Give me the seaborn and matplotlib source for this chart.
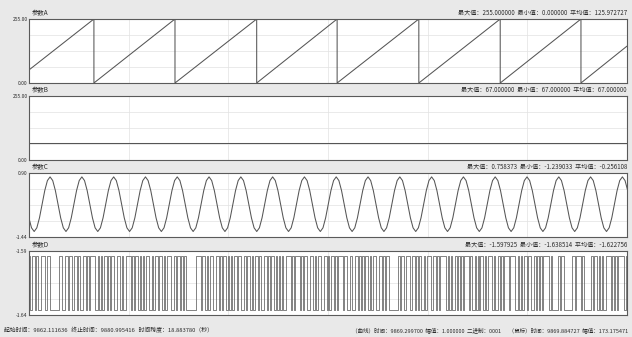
import numpy as np
import pandas as pd
import matplotlib
matplotlib.use("Agg")
import matplotlib.pyplot as plt
import seaborn as sns

# DADOS

DURACAO = 18.883780  # segundos (9862.111636 -> 9880.995416)

# Parametro A: dente de serra (vertices)
A_T = [0.00, 2.05, 2.05, 4.61, 4.61, 7.19, 7.19, 9.73, 9.73,
       12.31, 12.31, 14.88, 14.88, 17.43, 17.43, DURACAO]
A_V = [52, 255, 0, 255, 0, 255, 0, 255, 0,
       255, 0, 255, 0, 255, 0, 147]

# Parametro B: constante
B_T = [0.0, DURACAO]
B_V = [67.0, 67.0]

# Parametro C: senoide, amostras a cada 1/12 de periodo (periodo ~1.004 s)
C_INICIO = -0.004
C_PASSO = 0.08367
C_V = [-0.740, -1.105,
       -1.239, -1.105, -0.740, -0.240, 0.259, 0.624, 0.758, 0.624, 0.259, -0.240, -0.740, -1.105,
       -1.239, -1.105, -0.740, -0.240, 0.259, 0.624, 0.758, 0.624, 0.259, -0.240, -0.740, -1.105,
       -1.239, -1.105, -0.740, -0.240, 0.259, 0.624, 0.758, 0.624, 0.259, -0.240, -0.740, -1.105,
       -1.239, -1.105, -0.740, -0.240, 0.259, 0.624, 0.758, 0.624, 0.259, -0.240, -0.740, -1.105,
       -1.239, -1.105, -0.740, -0.240, 0.259, 0.624, 0.758, 0.624, 0.259, -0.240, -0.740, -1.105,
       -1.239, -1.105, -0.740, -0.240, 0.259, 0.624, 0.758, 0.624, 0.259, -0.240, -0.740, -1.105,
       -1.239, -1.105, -0.740, -0.240, 0.259, 0.624, 0.758, 0.624, 0.259, -0.240, -0.740, -1.105,
       -1.239, -1.105, -0.740, -0.240, 0.259, 0.624, 0.758, 0.624, 0.259, -0.240, -0.740, -1.105,
       -1.239, -1.105, -0.740, -0.240, 0.259, 0.624, 0.758, 0.624, 0.259, -0.240, -0.740, -1.105,
       -1.239, -1.105, -0.740, -0.240, 0.259, 0.624, 0.758, 0.624, 0.259, -0.240, -0.740, -1.105,
       -1.239, -1.105, -0.740, -0.240, 0.259, 0.624, 0.758, 0.624, 0.259, -0.240, -0.740, -1.105,
       -1.239, -1.105, -0.740, -0.240, 0.259, 0.624, 0.758, 0.624, 0.259, -0.240, -0.740, -1.105,
       -1.239, -1.105, -0.740, -0.240, 0.259, 0.624, 0.758, 0.624, 0.259, -0.240, -0.740, -1.105,
       -1.239, -1.105, -0.740, -0.240, 0.259, 0.624, 0.758, 0.624, 0.259, -0.240, -0.740, -1.105,
       -1.239, -1.105, -0.740, -0.240, 0.259, 0.624, 0.758, 0.624, 0.259, -0.240, -0.740, -1.105,
       -1.239, -1.105, -0.740, -0.240, 0.259, 0.624, 0.758, 0.624, 0.259, -0.240, -0.740, -1.105,
       -1.239, -1.105, -0.740, -0.240, 0.259, 0.624, 0.758, 0.624, 0.259, -0.240, -0.740, -1.105,
       -1.239, -1.105, -0.740, -0.240, 0.259, 0.624, 0.758, 0.624, 0.259, -0.240, -0.740, -1.105,
       -1.239, -1.105, -0.740, -0.240, 0.259, 0.624, 0.758, 0.624, 0.259]

# Parametro D: sinal binario (1 = alto, 0 = baixo)
D_ALTO = -1.5979
D_BAIXO = -1.6385
D_BITS = ("1011010011" "1011000000" "1100110110" "1101001101" "0111001010"
          "1101011001" "1010011101" "0110101011" "0010110110" "1011100101"
          "1010100000" "0011101101" "0110011010" "1101010110" "1100101101"
          "0110100110" "1011010101" "0011101011" "1010110011" "0101100110"
          "1011010111" "0110010011" "0101011010" "1100110101" "1000000101"
          "1011101101" "0100101110" "1101011110" "1010010101" "0111010010"
          "1011010111" "0100101011" "1011100101" "0110110010" "1010111101"
          "0000101100" "0001101110" "1000001011" "0101001110" "1010111101")

TITULOS = ["参数A", "参数B", "参数C", "参数D"]
ESTATISTICAS = [
    "最大值：255.000000  最小值：0.000000  平均值：125.972727",
    "最大值：67.000000  最小值：67.000000  平均值：67.000000",
    "最大值：0.758373  最小值：-1.239033  平均值：-0.256108",
    "最大值：-1.597925  最小值：-1.638514  平均值：-1.622756",
]
LIMITES_Y = [(0.0, 255.0), (0.0, 255.0), (-1.44, 0.90), (-1.6426, -1.5938)]

RODAPE_ESQ = "起始时间：9862.111636   终止时间：9880.995416   时间跨度：18.883780（秒）"
RODAPE_DIR = "（曲线）时间：9869.299700  幅值：1.000000  二进制：0001      （鼠标）时间：9869.884727  幅值：173.175471"

# MONTAGEM DOS SINAIS

c_t = C_INICIO + C_PASSO * np.arange(len(C_V))
d_v = [D_ALTO if b == "1" else D_BAIXO for b in D_BITS]
d_t = np.linspace(0, DURACAO, len(d_v) + 1)
d_v = d_v + [d_v[-1]]

sinais = [
    pd.DataFrame({"t": A_T, "v": A_V}),
    pd.DataFrame({"t": B_T, "v": B_V}),
    pd.DataFrame({"t": c_t, "v": C_V}),
    pd.DataFrame({"t": d_t, "v": d_v}),
]

# FIGURA

sns.set_theme(style="white")
plt.rcParams["font.family"] = ["Noto Sans CJK SC", "DejaVu Sans"]

COR_FUNDO = "#e9e9e9"
COR_LINHA = "#555555"
COR_TEXTO = "#2b2b2b"

fig = plt.figure(figsize=(6.32, 3.37), dpi=100, facecolor=COR_FUNDO)
W, H = 632.0, 337.0
esq, dir_ = 29, 627
topos = [19, 96, 173, 251]
altura = 64

for i, (df, titulo, est, (y0, y1)) in enumerate(zip(sinais, TITULOS, ESTATISTICAS, LIMITES_Y)):
    topo = topos[i]
    ax = fig.add_axes([esq / W, 1 - (topo + altura) / H, (dir_ - esq) / W, altura / H])
    ax.set_facecolor("white")
    kw = dict(drawstyle="steps-post", lw=0.55, color="#606060") if i == 3 else dict(lw=0.75, color=COR_LINHA)
    sns.lineplot(data=df, x="t", y="v", estimator=None, sort=False, ax=ax, **kw)
    ax.set_xlim(0, DURACAO)
    ax.set_ylim(y0, y1)
    ax.set_xticks(np.linspace(0, DURACAO, 7))
    ax.set_xticklabels([])
    ax.set_yticks(np.linspace(y0, y1, 5))
    ax.set_yticklabels([f"{y1:.2f}" if k == 4 else (f"{y0:.2f}" if k == 0 else "")
                        for k in range(5)], fontsize=3.6, color=COR_TEXTO)
    ax.tick_params(axis="both", length=0, pad=1)
    ax.grid(True, color="#e2e2e2", lw=0.5)
    ax.set_xlabel("")
    ax.set_ylabel("")
    for s in ax.spines.values():
        s.set_color("#5a5a5a")
        s.set_linewidth(0.8)
    fig.text((esq + 3) / W, 1 - (topo - 6) / H, titulo, fontsize=4.6,
             color=COR_TEXTO, ha="left", va="center")
    fig.text(dir_ / W, 1 - (topo - 6) / H, est, fontsize=4.4,
             color=COR_TEXTO, ha="right", va="center")

fig.text(4 / W, 1 - 330 / H, RODAPE_ESQ, fontsize=4.2, color=COR_TEXTO, ha="left", va="center")
fig.text(628 / W, 1 - 330 / H, RODAPE_DIR, fontsize=4.0, color=COR_TEXTO, ha="right", va="center")

fig.savefig("out.png", dpi=100, facecolor=COR_FUNDO)
